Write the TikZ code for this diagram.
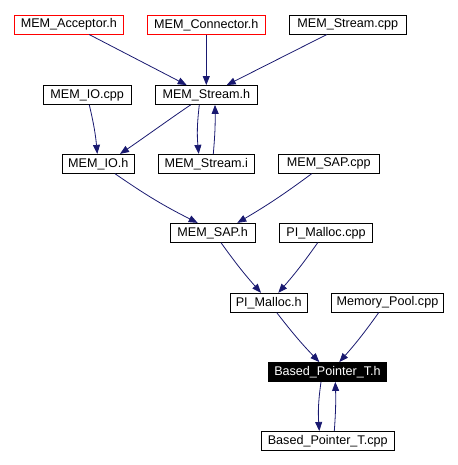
\documentclass[tikz,border=0pt]{standalone}
\usepackage{fontspec}
\setmainfont{Liberation Sans}
\usetikzlibrary{arrows.meta}
\definecolor{edgeblue}{HTML}{191970}
\definecolor{redborder}{HTML}{FF0000}
\tikzset{
  filebox/.style={draw=black, line width=0.8pt, fill=white, minimum height=19pt, inner sep=0pt,
    font=\fontsize{12.6}{15}\selectfont},
  redbox/.style={filebox, draw=redborder},
  curbox/.style={filebox, fill=black, text=white},
  dep/.style={draw=edgeblue, line width=0.8pt, -{Triangle[length=9pt,width=7pt]}}
}
\begin{document}
\begin{tikzpicture}[x=1pt,y=1pt]
\useasboundingbox (0,0) rectangle (457,465);
\node[redbox, minimum width=109pt] (acc) at (68.8,440.3) {MEM\_Acceptor.h};
\node[redbox, minimum width=118pt] (con) at (206.3,440.3) {MEM\_Connector.h};
\node[filebox, minimum width=117pt] (scpp) at (347.8,440.3) {MEM\_Stream.cpp};
\node[filebox, minimum width=88pt] (iocpp) at (87.2,370) {MEM\_IO.cpp};
\node[filebox, minimum width=102pt] (sh) at (206.3,370) {MEM\_Stream.h};
\node[filebox, minimum width=72pt] (ioh) at (98.3,301.2) {MEM\_IO.h};
\node[filebox, minimum width=96pt] (si) at (206.2,301.2) {MEM\_Stream.i};
\node[filebox, minimum width=101pt] (sapcpp) at (328.8,301.2) {MEM\_SAP.cpp};
\node[filebox, minimum width=85pt] (saph) at (212.7,232.2) {MEM\_SAP.h};
\node[filebox, minimum width=93pt] (pmcpp) at (326,232.2) {PI\_Malloc.cpp};
\node[filebox, minimum width=77pt] (pmh) at (268.7,162.3) {PI\_Malloc.h};
\node[filebox, minimum width=112pt] (mpcpp) at (387.5,162.3) {Memory\_Pool.cpp};
\node[curbox, minimum width=118pt] (bph) at (327.5,93) {Based\_Pointer\_T.h};
\node[filebox, minimum width=133pt] (bpcpp) at (327.7,24.1) {Based\_Pointer\_T.cpp};

\draw[dep] ([xshift=20.5pt]acc.south) -- ([xshift=-19.6pt]sh.north);
\draw[dep] (con.south) -- (sh.north);
\draw[dep] ([xshift=-21.1pt]scpp.south) -- ([xshift=20.4pt]sh.north);
\draw[dep] ([xshift=2.1pt]iocpp.south) to[bend left=4] ([xshift=-1pt]ioh.north);
\draw[dep] ([xshift=-15.6pt]sh.south) .. controls +(-8,-5) and +(18,12) .. ([xshift=21.7pt]ioh.north);
\draw[dep] ([xshift=-7pt]sh.south) to[bend right=6] ([xshift=-7.5pt]si.north);
\draw[dep] ([xshift=7.1pt]si.north) to[bend right=3] ([xshift=8.7pt]sh.south);
\draw[dep] ([xshift=16.7pt]ioh.south) to[bend right=4] ([xshift=-15pt]saph.north);
\draw[dep] ([xshift=-17.1pt]sapcpp.south) to[bend left=3] ([xshift=24.6pt]saph.north);
\draw[dep] ([xshift=8.3pt]saph.south) to[bend right=3] ([xshift=-7.7pt]pmh.north);
\draw[dep] ([xshift=-8.3pt]pmcpp.south) to[bend left=3] ([xshift=9.6pt]pmh.north);
\draw[dep] ([xshift=8pt]pmh.south) to[bend right=3] ([xshift=-8.2pt]bph.north);
\draw[dep] ([xshift=-8.8pt]mpcpp.south) to[bend left=3] ([xshift=11.8pt]bph.north);
\draw[dep] ([xshift=-6.5pt]bph.south) to[bend right=6] ([xshift=-8.4pt]bpcpp.north);
\draw[dep] ([xshift=6.6pt]bpcpp.north) to[bend right=3] ([xshift=7.8pt]bph.south);
\end{tikzpicture}
\end{document}
